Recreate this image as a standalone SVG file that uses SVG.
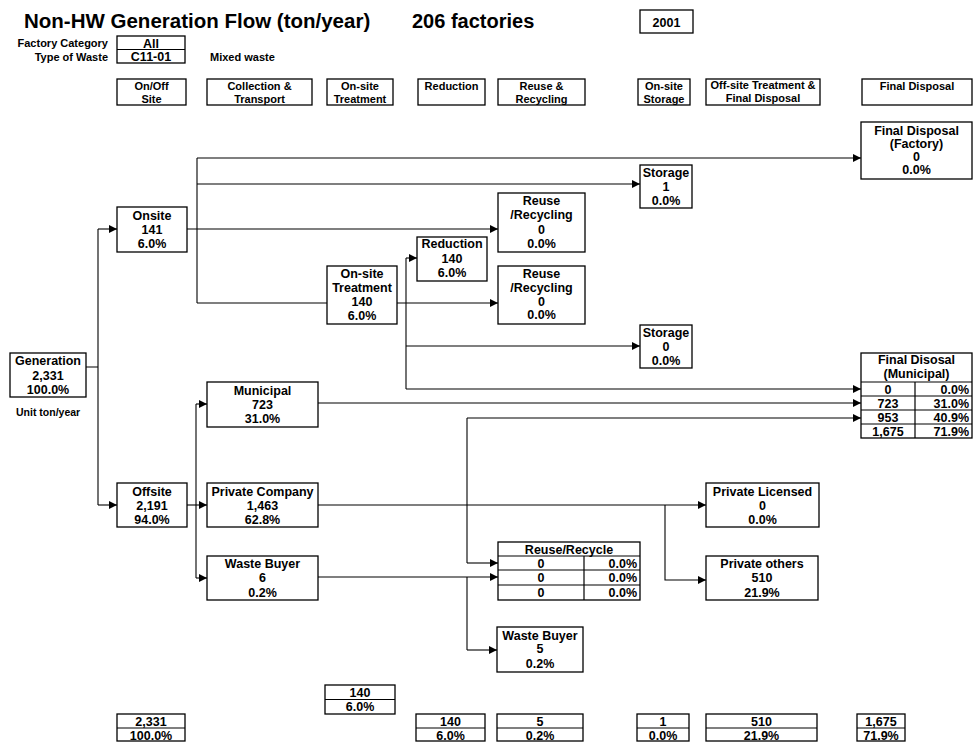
<svg xmlns="http://www.w3.org/2000/svg" width="974" height="742" viewBox="0 0 974 742">
<style>
text{font-family:"Liberation Sans",Arial,sans-serif;font-weight:bold;fill:#000}
.c{text-anchor:middle;font-size:12.5px}
.h{text-anchor:middle;font-size:11px}
.r{text-anchor:end;font-size:12.5px}
.s{font-size:11px}
.b{fill:#fff;stroke:#000;stroke-width:1.3}
.d{stroke:#000;stroke-width:1.2;fill:none}
.ln{stroke:#000;stroke-width:1.1;fill:none}
.a{marker-end:url(#ah)}
</style>
<defs>
<marker id="ah" markerUnits="userSpaceOnUse" markerWidth="8" markerHeight="8" refX="8" refY="4" orient="auto">
<path d="M0,0 L8,4 L0,8 z" fill="#000"/>
</marker>
</defs>
<rect width="974" height="742" fill="#fff"/>

<g id="title">
<text x="24" y="28" font-size="20.5">Non-HW Generation Flow (ton/year)</text>
<text x="412" y="28" font-size="20">206 factories</text>
<rect class="b" x="640" y="10" width="53" height="23"/>
<text class="c" x="666.5" y="27" font-size="14">2001</text>
<text class="s" x="108" y="47" text-anchor="end" font-size="10.5">Factory Category</text>
<text class="s" x="108" y="60.5" text-anchor="end" font-size="10.5">Type of Waste</text>
<rect class="b" x="117" y="36" width="68" height="27"/>
<line class="d" x1="117" y1="49.5" x2="185" y2="49.5"/>
<text class="c" x="151" y="47.5" font-size="12">All</text>
<text class="c" x="151" y="61" font-size="12">C11-01</text>
<text class="s" x="210" y="61" font-size="11.5">Mixed waste</text>
</g>

<g id="headers">
<g id="h-onoff"><rect class="b" x="117" y="79" width="69" height="26"/><text class="h" x="151.5" y="89.5">On/Off</text><text class="h" x="151.5" y="102.5">Site</text></g>
<g id="h-coll"><rect class="b" x="207" y="79" width="105" height="26"/><text class="h" x="259.5" y="89.5">Collection &amp;</text><text class="h" x="259.5" y="102.5">Transport</text></g>
<g id="h-treat"><rect class="b" x="327" y="79" width="66" height="26"/><text class="h" x="360" y="89.5">On-site</text><text class="h" x="360" y="102.5">Treatment</text></g>
<g id="h-red"><rect class="b" x="418" y="79" width="67" height="26"/><text class="h" x="451.5" y="90">Reduction</text></g>
<g id="h-reuse"><rect class="b" x="498" y="79" width="87" height="26"/><text class="h" x="541.5" y="89.5">Reuse &amp;</text><text class="h" x="541.5" y="102.5">Recycling</text></g>
<g id="h-stor"><rect class="b" x="638" y="79" width="52" height="26"/><text class="h" x="664" y="89.5">On-site</text><text class="h" x="664" y="102.5">Storage</text></g>
<g id="h-off"><rect class="b" x="706" y="79" width="114" height="26"/><text class="h" x="763" y="89">Off-site Treatment &amp;</text><text class="h" x="763" y="102">Final Disposal</text></g>
<g id="h-final"><rect class="b" x="862" y="79" width="110" height="26"/><text class="h" x="917" y="90">Final Disposal</text></g>
</g>

<g id="connectors">
<path class="ln" d="M86,367 H98 M98,229 V505"/>
<path class="ln a" d="M98,229 H117"/>
<path class="ln a" d="M98,505 H117"/>
<path class="ln a" d="M187,229 H498"/>
<path class="ln" d="M197,158 V303"/>
<path class="ln a" d="M197,158 H861"/>
<path class="ln a" d="M197,184 H640"/>
<path class="ln" d="M197,303 H327"/>
<path class="ln a" d="M397,303 H498"/>
<path class="ln" d="M406,258 V389"/>
<path class="ln a" d="M406,258 H417"/>
<path class="ln a" d="M406,346 H640"/>
<path class="ln a" d="M406,389 H861"/>
<path class="ln a" d="M187,505 H207"/>
<path class="ln" d="M196,404 V578"/>
<path class="ln a" d="M196,404 H207"/>
<path class="ln a" d="M196,578 H207"/>
<path class="ln a" d="M318,403 H861"/>
<path class="ln a" d="M467,418 H861"/>
<path class="ln" d="M467,418 V563"/>
<path class="ln a" d="M467,563 H498"/>
<path class="ln a" d="M318,577 H498"/>
<path class="ln" d="M467,577 V650"/>
<path class="ln a" d="M467,650 H497"/>
<path class="ln a" d="M318,505 H706"/>
<path class="ln a" d="M665,505 V580 H706"/>
</g>

<g id="generation"><rect class="b" x="10" y="353" width="76" height="44"/>
<text class="c" x="48" y="365">Generation</text><text class="c" x="48" y="379.5">2,331</text><text class="c" x="48" y="394">100.0%</text></g>
<text id="unit" x="16" y="416" font-size="10.5" font-weight="normal">Unit ton/year</text>

<g id="onsite"><rect class="b" x="117" y="207" width="70" height="45"/>
<text class="c" x="152" y="219.5">Onsite</text><text class="c" x="152" y="233.5">141</text><text class="c" x="152" y="248">6.0%</text></g>
<g id="offsite"><rect class="b" x="117" y="483" width="70" height="44"/>
<text class="c" x="152" y="495.5">Offsite</text><text class="c" x="152" y="509.5">2,191</text><text class="c" x="152" y="524">94.0%</text></g>

<g id="municipal"><rect class="b" x="207" y="382" width="111" height="45"/>
<text class="c" x="262.5" y="394.5">Municipal</text><text class="c" x="262.5" y="408.5">723</text><text class="c" x="262.5" y="423">31.0%</text></g>
<g id="private-company"><rect class="b" x="207" y="483" width="111" height="44"/>
<text class="c" x="262.5" y="495.5">Private Company</text><text class="c" x="262.5" y="509.5">1,463</text><text class="c" x="262.5" y="524">62.8%</text></g>
<g id="waste-buyer"><rect class="b" x="207" y="556" width="111" height="44"/>
<text class="c" x="262.5" y="567.5">Waste Buyer</text><text class="c" x="262.5" y="581.5">6</text><text class="c" x="262.5" y="596.5">0.2%</text></g>

<g id="onsite-treatment"><rect class="b" x="327" y="266" width="70" height="58"/>
<text class="c" x="362" y="277.5">On-site</text><text class="c" x="362" y="291.5">Treatment</text><text class="c" x="362" y="305.5">140</text><text class="c" x="362" y="319.5">6.0%</text></g>
<g id="reduction"><rect class="b" x="417" y="237" width="70" height="44"/>
<text class="c" x="452" y="247.5">Reduction</text><text class="c" x="452" y="262.5">140</text><text class="c" x="452" y="277">6.0%</text></g>

<g id="reuse1"><rect class="b" x="498" y="193" width="87" height="59"/>
<text class="c" x="541.5" y="204.5">Reuse</text><text class="c" x="541.5" y="218.5">/Recycling</text><text class="c" x="541.5" y="233.5">0</text><text class="c" x="541.5" y="247.5">0.0%</text></g>
<g id="reuse2"><rect class="b" x="498" y="266" width="87" height="58"/>
<text class="c" x="541.5" y="277.5">Reuse</text><text class="c" x="541.5" y="291.5">/Recycling</text><text class="c" x="541.5" y="305.5">0</text><text class="c" x="541.5" y="319">0.0%</text></g>

<g id="storage1"><rect class="b" x="640" y="165" width="52" height="43"/>
<text class="c" x="666" y="176.5">Storage</text><text class="c" x="666" y="191">1</text><text class="c" x="666" y="204.5">0.0%</text></g>
<g id="storage0"><rect class="b" x="640" y="325" width="52" height="43"/>
<text class="c" x="666" y="336.5">Storage</text><text class="c" x="666" y="351">0</text><text class="c" x="666" y="364.5">0.0%</text></g>

<g id="fd-factory"><rect class="b" x="861" y="122" width="111" height="57"/>
<text class="c" x="916.5" y="134.5">Final Disposal</text><text class="c" x="916.5" y="147.5">(Factory)</text><text class="c" x="916.5" y="160.5">0</text><text class="c" x="916.5" y="174">0.0%</text></g>

<g id="fd-municipal"><rect class="b" x="861" y="353" width="111" height="85"/>
<text class="c" x="916.5" y="364">Final Disosal</text><text class="c" x="916.5" y="378">(Municipal)</text>
<path class="d" d="M861,382 H972 M861,396 H972 M861,410 H972 M861,424 H972 M915,382 V438"/>
<text class="c" x="888" y="393.5">0</text><text class="r" x="969" y="393.5">0.0%</text>
<text class="c" x="888" y="407.5">723</text><text class="r" x="969" y="407.5">31.0%</text>
<text class="c" x="888" y="421.5">953</text><text class="r" x="969" y="421.5">40.9%</text>
<text class="c" x="888" y="435.5">1,675</text><text class="r" x="969" y="435.5">71.9%</text></g>

<g id="private-licensed"><rect class="b" x="706" y="483" width="113" height="44"/>
<text class="c" x="762.5" y="495.5">Private Licensed</text><text class="c" x="762.5" y="509.5">0</text><text class="c" x="762.5" y="524">0.0%</text></g>
<g id="private-others"><rect class="b" x="706" y="556" width="112" height="44"/>
<text class="c" x="762" y="567.5">Private others</text><text class="c" x="762" y="581.5">510</text><text class="c" x="762" y="596.5">21.9%</text></g>

<g id="reuse-recycle"><rect class="b" x="498" y="542" width="142" height="58"/>
<text class="c" x="569" y="553.5">Reuse/Recycle</text>
<path class="d" d="M498,556 H640 M498,570 H640 M498,585 H640 M584,556 V600"/>
<text class="c" x="541" y="567.5">0</text><text class="r" x="637" y="567.5">0.0%</text>
<text class="c" x="541" y="581.5">0</text><text class="r" x="637" y="581.5">0.0%</text>
<text class="c" x="541" y="596.5">0</text><text class="r" x="637" y="596.5">0.0%</text></g>

<g id="waste-buyer2"><rect class="b" x="497" y="627" width="86" height="45"/>
<text class="c" x="540" y="639.5">Waste Buyer</text><text class="c" x="540" y="653">5</text><text class="c" x="540" y="667.5">0.2%</text></g>

<g id="totals">
<g id="t-gen"><rect class="b" x="117" y="714" width="68" height="27"/><line class="d" x1="117" y1="728" x2="185" y2="728"/><text class="c" x="151" y="725.5">2,331</text><text class="c" x="151" y="739.5">100.0%</text></g>
<g id="t-treat"><rect class="b" x="325" y="685" width="70" height="29"/><line class="d" x1="325" y1="699.5" x2="395" y2="699.5"/><text class="c" x="360" y="697">140</text><text class="c" x="360" y="711">6.0%</text></g>
<g id="t-red"><rect class="b" x="416" y="714" width="69" height="27"/><line class="d" x1="416" y1="728" x2="485" y2="728"/><text class="c" x="450.5" y="725.5">140</text><text class="c" x="450.5" y="739.5">6.0%</text></g>
<g id="t-reuse"><rect class="b" x="497" y="714" width="86" height="27"/><line class="d" x1="497" y1="728" x2="583" y2="728"/><text class="c" x="540" y="725.5">5</text><text class="c" x="540" y="739.5">0.2%</text></g>
<g id="t-stor"><rect class="b" x="637" y="714" width="52" height="27"/><line class="d" x1="637" y1="728" x2="689" y2="728"/><text class="c" x="663" y="725.5">1</text><text class="c" x="663" y="739.5">0.0%</text></g>
<g id="t-off"><rect class="b" x="706" y="714" width="111" height="27"/><line class="d" x1="706" y1="728" x2="817" y2="728"/><text class="c" x="761.5" y="725.5">510</text><text class="c" x="761.5" y="739.5">21.9%</text></g>
<g id="t-final"><rect class="b" x="857" y="714" width="48" height="27"/><line class="d" x1="857" y1="728" x2="905" y2="728"/><text class="c" x="881" y="725.5">1,675</text><text class="c" x="881" y="739.5">71.9%</text></g>
</g>
</svg>
